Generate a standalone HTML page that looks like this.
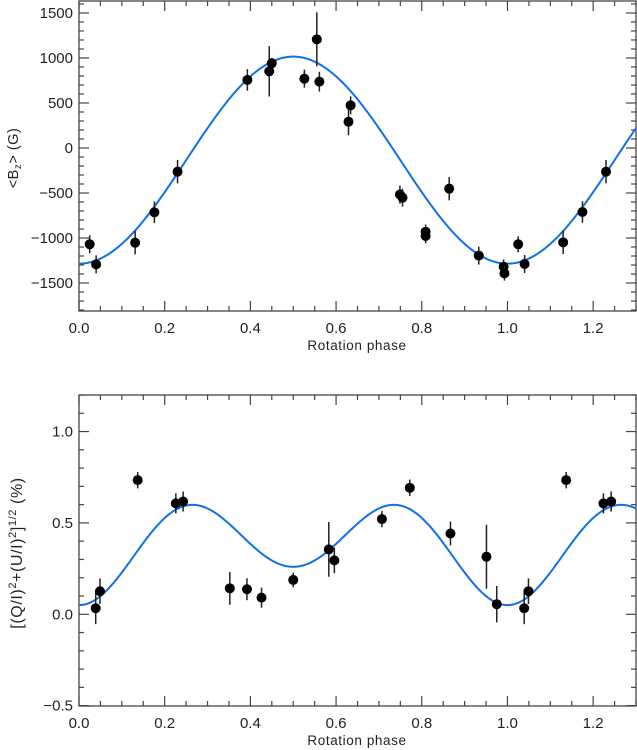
<!DOCTYPE html>
<html><head><meta charset="utf-8"><style>
html,body{margin:0;padding:0;background:#fff;}
svg{display:block;font-family:"Liberation Sans",sans-serif;}
</style></head><body>
<svg id="chart" width="637" height="750" viewBox="0 0 637 750" xmlns="http://www.w3.org/2000/svg"></svg>
<script>
// Top panel data: longitudinal field <Bz> (G)
const bzPhase = [0.025,0.040,0.131,0.176,0.230,0.393,0.444,0.450,0.526,0.555,0.561,0.629,0.634,0.749,0.755,0.809,0.809,0.864,0.933,0.991,0.993,1.025,1.040,1.130,1.175,1.230];
const bzValue = [-1070,-1293,-1052,-715,-263,756,852,941,770,1207,737,292,474,-517,-552,-930,-978,-452,-1196,-1319,-1393,-1070,-1289,-1048,-711,-263];
const bzError = [100,100,130,120,130,120,280,60,100,300,110,150,100,100,100,80,80,130,100,80,80,90,100,130,120,130];
const bzTicks = [-1500,-1000,-500,0,500,1000,1500];
// Bottom panel data: linear polarization (%)
const lpPhase = [0.039,0.049,0.137,0.226,0.243,0.352,0.392,0.426,0.500,0.583,0.596,0.707,0.772,0.867,0.951,0.975,1.039,1.049,1.137,1.224,1.242];
const lpValue = [0.033,0.126,0.734,0.607,0.617,0.142,0.137,0.091,0.188,0.355,0.295,0.521,0.692,0.442,0.315,0.055,0.033,0.126,0.734,0.607,0.617];
const lpError = [0.087,0.07,0.045,0.055,0.055,0.09,0.06,0.055,0.04,0.15,0.07,0.045,0.045,0.065,0.175,0.1,0.087,0.07,0.045,0.055,0.055];
const lpTicks = [-0.5,0.0,0.5,1.0];
const xTicks = [0.0,0.2,0.4,0.6,0.8,1.0,1.2];

const NS='http://www.w3.org/2000/svg';
const svg=document.getElementById('chart');
function mk(tag,attrs,parent){const e=document.createElementNS(NS,tag);for(const k in attrs)e.setAttribute(k,attrs[k]);(parent||svg).appendChild(e);return e;}

const X0=79,X1=636;
const xs=v=>X0+(v-0)/(1.3)*(X1-X0);

function panel(cfg){
  const g=mk('g',{});
  
  
  const ys=v=>cfg.y1-(v-cfg.vmin)/(cfg.vmax-cfg.vmin)*(cfg.y1-cfg.y0);
  const fr=mk('rect',{x:X0,y:cfg.y0,width:X1-X0,height:cfg.y1-cfg.y0,fill:'none',stroke:'#444','stroke-width':1.3},g);
  
  
  for(let i=0;i<=26;i++){
    const v=i*0.05,x=xs(v),major=(i%4===0),L=major?10:5;
    mk('line',{x1:x,x2:x,y1:cfg.y1,y2:cfg.y1-L,stroke:'#444','stroke-width':1.2},g);
    mk('line',{x1:x,x2:x,y1:cfg.y0,y2:cfg.y0+L,stroke:'#444','stroke-width':1.2},g);
  }
  xTicks.forEach(v=>{
    const t=mk('text',{x:xs(v),y:cfg.y1+22,'text-anchor':'middle','font-size':15,fill:'#222'},g);
    t.textContent=v.toFixed(1);
    
    
  });
  const start=Math.ceil(cfg.vmin/cfg.minor-1e-6);
  for(let k=start;k*cfg.minor<=cfg.vmax+1e-9;k++){
    const v=k*cfg.minor,y=ys(v);
    const major=Math.abs(v/cfg.major-Math.round(v/cfg.major))<1e-6,L=major?10:5;
    mk('line',{x1:X0,x2:X0+L,y1:y,y2:y,stroke:'#444','stroke-width':1.2},g);
    mk('line',{x1:X1,x2:X1-L,y1:y,y2:y,stroke:'#444','stroke-width':1.2},g);
  }
  cfg.ticks.forEach(v=>{
    const t=mk('text',{x:X0-6,y:ys(v)+5,'text-anchor':'end','font-size':15,fill:'#222'},g);
    t.textContent=(v<0?'\u2212':'')+cfg.fmt(Math.abs(v));
    
    
  });
  let d='';
  for(let i=0;i<=520;i++){const p=i/400;d+=(i?'L':'M')+xs(p).toFixed(2)+','+ys(cfg.model(p)).toFixed(2);}
  const c=mk('path',{d:d,fill:'none',stroke:'#1270e6','stroke-width':2},g);
  
  
  cfg.px.forEach((p,i)=>{
    const x=xs(p),v=cfg.py[i],e=cfg.pe[i];
    const eb=mk('line',{x1:x,x2:x,y1:ys(v-e),y2:ys(v+e),stroke:'#222','stroke-width':1.5},g);
    
    
    const dot=mk('circle',{cx:x,cy:ys(v),r:5,fill:'#000'},g);
    
    
  });
  const xl=mk('text',{x:357,y:cfg.y1+39,'text-anchor':'middle','font-size':13.5,fill:'#222','letter-spacing':'0.6'},g);
  xl.textContent='Rotation phase';
  
  
  return ys;
}

panel({name:'bz-panel',y0:1,y1:311,vmin:-1811,vmax:1633,minor:100,major:500,ticks:bzTicks,fmt:v=>String(v),
  px:bzPhase,py:bzValue,pe:bzError,model:p=>-135-1150*Math.cos(2*Math.PI*p)});
panel({name:'polarization-panel',y0:395,y1:706,vmin:-0.502,vmax:1.2,minor:0.1,major:0.5,ticks:lpTicks,fmt:v=>v.toFixed(1),
  px:lpPhase,py:lpValue,pe:lpError,model:p=>{const t=2*Math.PI*p;return 0.375-0.099*Math.cos(t)-0.22*Math.cos(2*t)-0.0057*Math.cos(3*t);}});

const yt1=mk('text',{transform:'translate(18,158) rotate(-90)','text-anchor':'middle','font-size':14.5,fill:'#222','letter-spacing':'0.5'});
yt1.innerHTML='&lt;B<tspan font-size="10" dy="3">z</tspan><tspan dy="-3">&gt; (G)</tspan>';


const yt2=mk('text',{transform:'translate(22,553) rotate(-90)','text-anchor':'middle','font-size':16,fill:'#222','letter-spacing':'0.6'});
yt2.innerHTML='[(Q/I)<tspan font-size="11" dy="-6">2</tspan><tspan dy="6">+(U/I)</tspan><tspan font-size="11" dy="-6">2</tspan><tspan dy="6">]</tspan><tspan font-size="11" dy="-6">1/2</tspan><tspan dy="6"> (%)</tspan>';


</script>
</body></html>
